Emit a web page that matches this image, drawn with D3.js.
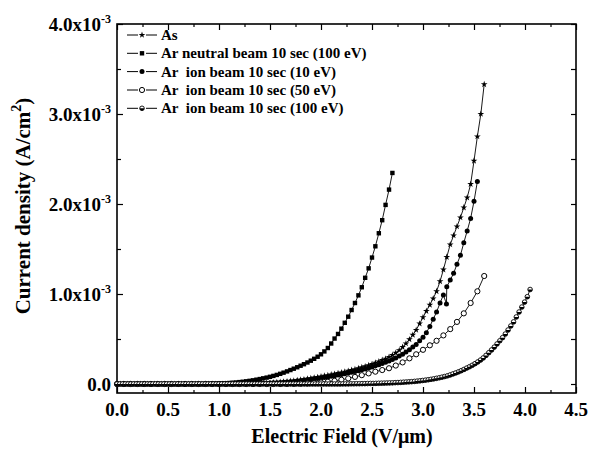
<!DOCTYPE html>
<html>
<head>
<meta charset="utf-8">
<script src="https://cdn.jsdelivr.net/npm/d3@7/dist/d3.min.js"></script>
<style>
  html, body { margin: 0; padding: 0; background: #fff; }
  svg text { font-family: "Liberation Serif", "Times New Roman", serif; font-weight: bold; fill: #000; }
</style>
</head>
<body>
<svg id="chart" width="590" height="449"></svg>
<script>
// Field emission J–E sweeps. E in V/μm, J in units of 10^-3 A/cm².
const asDeposited = [
  [0,0],[0.033,0],[0.067,0],[0.1,0],[0.133,0],[0.167,0],[0.2,0],[0.233,0],[0.267,0],[0.3,0],
  [0.333,0],[0.367,0],[0.4,0],[0.433,0],[0.467,0],[0.5,0],[0.533,0],[0.567,0],[0.6,0],[0.633,0],
  [0.667,0],[0.7,0],[0.733,0],[0.767,0],[0.8,0],[0.833,0],[0.867,0],[0.9,0],[0.933,0],[0.967,0],
  [1.0,0],[1.033,0],[1.067,0],[1.1,0],[1.133,0.001],[1.167,0.001],[1.2,0.002],[1.233,0.002],
  [1.267,0.003],[1.3,0.004],[1.333,0.005],[1.367,0.006],[1.4,0.007],[1.433,0.009],[1.467,0.011],
  [1.5,0.013],[1.533,0.015],[1.567,0.018],[1.6,0.021],[1.633,0.024],[1.667,0.028],[1.7,0.032],
  [1.733,0.036],[1.767,0.041],[1.8,0.046],[1.833,0.051],[1.867,0.057],[1.9,0.063],[1.933,0.070],
  [1.967,0.076],[2.0,0.083],[2.033,0.090],[2.067,0.097],[2.1,0.104],[2.133,0.112],[2.167,0.120],
  [2.2,0.128],[2.233,0.136],[2.267,0.145],[2.3,0.154],[2.333,0.164],[2.367,0.174],[2.4,0.185],
  [2.433,0.195],[2.467,0.207],[2.5,0.220],[2.533,0.235],[2.567,0.250],[2.6,0.265],[2.633,0.280],
  [2.667,0.300],[2.7,0.320],[2.733,0.345],[2.767,0.375],[2.8,0.410],[2.833,0.450],[2.867,0.495],
  [2.9,0.545],[2.933,0.600],[2.967,0.670],[3.0,0.740],[3.033,0.810],[3.067,0.880],[3.1,0.950],
  [3.133,1.030],[3.167,1.140],[3.2,1.270],[3.233,1.410],[3.267,1.550],[3.3,1.650],[3.333,1.750],
  [3.367,1.850],[3.4,1.960],[3.433,2.070],[3.467,2.220],[3.5,2.480],[3.533,2.750],[3.567,3.000],
  [3.6,3.330]
];

const neutralBeam100 = [
  [0,0],[0.033,0],[0.067,0],[0.1,0],[0.133,0],[0.167,0],[0.2,0],[0.233,0],[0.267,0],[0.3,0],
  [0.333,0],[0.367,0],[0.4,0],[0.433,0],[0.467,0],[0.5,0],[0.533,0],[0.567,0],[0.6,0],[0.633,0],
  [0.667,0],[0.7,0],[0.733,0],[0.767,0],[0.8,0],[0.833,0],[0.867,0.001],[0.9,0.002],[0.933,0.003],
  [0.967,0.004],[1.0,0.005],[1.033,0.007],[1.067,0.009],[1.1,0.011],[1.133,0.014],[1.167,0.017],
  [1.2,0.021],[1.233,0.025],[1.267,0.030],[1.3,0.035],[1.333,0.041],[1.367,0.048],[1.4,0.055],
  [1.433,0.063],[1.467,0.071],[1.5,0.080],[1.533,0.090],[1.567,0.101],[1.6,0.113],[1.633,0.126],
  [1.667,0.140],[1.7,0.155],[1.733,0.170],[1.767,0.186],[1.8,0.203],[1.833,0.220],[1.867,0.239],
  [1.9,0.259],[1.933,0.280],[1.967,0.303],[2.0,0.330],[2.033,0.362],[2.067,0.400],[2.1,0.450],
  [2.133,0.505],[2.167,0.556],[2.2,0.615],[2.233,0.680],[2.267,0.748],[2.3,0.822],[2.333,0.900],
  [2.367,0.985],[2.4,1.075],[2.433,1.180],[2.467,1.285],[2.5,1.405],[2.533,1.530],[2.567,1.675],
  [2.6,1.820],[2.633,1.990],[2.667,2.160],[2.7,2.345]
];

const ionBeam10 = [
  [0,0],[0.033,0],[0.067,0],[0.1,0],[0.133,0],[0.167,0],[0.2,0],[0.233,0],[0.267,0],[0.3,0],
  [0.333,0],[0.367,0],[0.4,0],[0.433,0],[0.467,0],[0.5,0],[0.533,0],[0.567,0],[0.6,0],[0.633,0],
  [0.667,0],[0.7,0],[0.733,0],[0.767,0],[0.8,0],[0.833,0],[0.867,0],[0.9,0],[0.933,0],[0.967,0],
  [1.0,0],[1.033,0],[1.067,0],[1.1,0],[1.133,0],[1.167,0.001],[1.2,0.001],[1.233,0.002],
  [1.267,0.002],[1.3,0.003],[1.333,0.004],[1.367,0.005],[1.4,0.006],[1.433,0.008],[1.467,0.009],
  [1.5,0.011],[1.533,0.013],[1.567,0.015],[1.6,0.017],[1.633,0.020],[1.667,0.023],[1.7,0.026],
  [1.733,0.029],[1.767,0.033],[1.8,0.037],[1.833,0.041],[1.867,0.046],[1.9,0.051],[1.933,0.056],
  [1.967,0.061],[2.0,0.067],[2.033,0.073],[2.067,0.079],[2.1,0.085],[2.133,0.092],[2.167,0.099],
  [2.2,0.106],[2.233,0.114],[2.267,0.122],[2.3,0.130],[2.333,0.139],[2.367,0.148],[2.4,0.158],
  [2.433,0.168],[2.467,0.179],[2.5,0.190],[2.533,0.202],[2.567,0.214],[2.6,0.227],[2.633,0.241],
  [2.667,0.256],[2.7,0.272],[2.733,0.290],[2.767,0.310],[2.8,0.330],[2.833,0.355],[2.867,0.380],
  [2.9,0.410],[2.933,0.440],[2.967,0.480],[3.0,0.520],[3.033,0.570],[3.067,0.640],[3.1,0.720],
  [3.133,0.800],[3.167,0.900],[3.2,0.990],[3.23,0.890],[3.233,1.080],[3.267,1.155],[3.3,1.230],
  [3.333,1.330],[3.367,1.430],[3.4,1.570],[3.433,1.700],[3.467,1.840],[3.5,2.030],[3.533,2.250]
];

const ionBeam50 = [
  [0,0],[0.067,0],[0.133,0],[0.2,0],[0.267,0],[0.333,0],[0.4,0],[0.467,0],[0.533,0],[0.6,0],
  [0.667,0],[0.733,0],[0.8,0],[0.867,0],[0.933,0],[1.0,0],[1.067,0],[1.133,0],[1.2,0],[1.267,0],
  [1.333,0],[1.4,0],[1.467,0],[1.533,0],[1.6,0],[1.667,0.001],[1.733,0.002],[1.8,0.004],
  [1.867,0.007],[1.933,0.011],[2.0,0.017],[2.067,0.025],[2.133,0.035],[2.2,0.047],[2.267,0.062],
  [2.333,0.079],[2.4,0.098],[2.467,0.118],[2.533,0.137],[2.6,0.155],[2.667,0.175],[2.733,0.205],
  [2.8,0.240],[2.867,0.285],[2.933,0.330],[3.0,0.380],[3.067,0.430],[3.133,0.480],[3.2,0.540],
  [3.267,0.610],[3.333,0.690],[3.4,0.785],[3.467,0.900],[3.533,1.030],[3.6,1.200]
];

const ionBeam100 = [
  [0,0],[0.027,0],[0.054,0],[0.081,0],[0.108,0],[0.135,0],[0.162,0],[0.189,0],[0.216,0],[0.243,0],
  [0.27,0],[0.297,0],[0.324,0],[0.351,0],[0.378,0],[0.405,0],[0.432,0],[0.459,0],[0.486,0],[0.513,0],
  [0.54,0],[0.567,0],[0.594,0],[0.621,0],[0.648,0],[0.675,0],[0.702,0],[0.729,0],[0.756,0],[0.783,0],
  [0.81,0],[0.837,0],[0.864,0],[0.891,0],[0.918,0],[0.945,0],[0.972,0],[0.999,0],[1.026,0],[1.053,0],
  [1.08,0],[1.107,0],[1.134,0],[1.161,0],[1.188,0],[1.215,0],[1.242,0],[1.269,0],[1.296,0],[1.323,0],
  [1.35,0],[1.377,0],[1.404,0],[1.431,0],[1.458,0],[1.485,0],[1.512,0],[1.539,0],[1.566,0],[1.593,0],
  [1.62,0],[1.647,0],[1.674,0],[1.701,0],[1.728,0],[1.755,0],[1.782,0],[1.809,0],[1.836,0],[1.863,0],
  [1.89,0],[1.917,0],[1.944,0],[1.971,0],[1.998,0],[2.025,0],[2.052,0],[2.079,0],[2.106,0],[2.133,0],
  [2.16,0],[2.187,0],[2.214,0.001],[2.241,0.001],[2.268,0.001],[2.295,0.002],[2.322,0.002],
  [2.349,0.003],[2.376,0.003],[2.403,0.004],[2.43,0.004],[2.457,0.005],[2.484,0.006],[2.511,0.006],
  [2.538,0.007],[2.565,0.008],[2.592,0.009],[2.619,0.010],[2.646,0.011],[2.673,0.012],[2.7,0.013],
  [2.727,0.015],[2.754,0.016],[2.781,0.018],[2.808,0.020],[2.835,0.022],[2.862,0.024],[2.889,0.026],
  [2.916,0.029],[2.943,0.032],[2.97,0.035],[2.997,0.039],[3.024,0.043],[3.051,0.047],[3.078,0.052],
  [3.105,0.057],[3.132,0.063],[3.159,0.069],[3.186,0.076],[3.213,0.083],[3.24,0.091],[3.267,0.101],
  [3.294,0.112],[3.321,0.123],[3.348,0.135],[3.375,0.148],[3.402,0.162],[3.429,0.177],[3.456,0.192],
  [3.483,0.208],[3.51,0.226],[3.537,0.245],[3.564,0.266],[3.591,0.290],[3.618,0.318],[3.645,0.348],
  [3.672,0.378],[3.699,0.410],[3.726,0.445],[3.753,0.480],[3.78,0.515],[3.807,0.555],[3.834,0.600],
  [3.861,0.645],[3.888,0.690],[3.915,0.745],[3.942,0.800],[3.969,0.855],[3.996,0.910],[4.023,0.970],
  [4.05,1.050]
];

// Axis ticks
const xMajorTicks = [0, 0.5, 1.0, 1.5, 2.0, 2.5, 3.0, 3.5, 4.0, 4.5];
const xMinorTicks = [0.25, 0.75, 1.25, 1.75, 2.25, 2.75, 3.25, 3.75, 4.25];
const yMajorTicks = [0, 1, 2, 3, 4];
const yMinorTicks = [0.5, 1.5, 2.5, 3.5];
const yTickMantissa = ["0.0", "1.0x10", "2.0x10", "3.0x10", "4.0x10"];
const yTickExponent = ["", "-3", "-3", "-3", "-3"];

const seriesNames = [
  "As",
  "Ar neutral beam 10 sec (100 eV)",
  "Ar  ion beam 10 sec (10 eV)",
  "Ar  ion beam 10 sec (50 eV)",
  "Ar  ion beam 10 sec (100 eV)"
];
const seriesData = [asDeposited, neutralBeam100, ionBeam10, ionBeam50, ionBeam100];
const seriesMarkers = ["star", "square", "disc", "ring", "half"];

// ---- layout ----
const svg = d3.select("#chart");
const plot = { left: 117, right: 576, top: 24, bottom: 393 };

const x = d3.scaleLinear().domain([0, 4.5]).range([plot.left, plot.right]);
const y = d3.scaleLinear().domain([-0.1, 4.0]).range([plot.bottom, plot.top]);

const axisStyle = g => {
  g.select(".domain").remove();
  g.selectAll(".tick line").attr("stroke", "#000").attr("stroke-width", 1.2);
  g.selectAll(".tick text").remove();
};

// bottom axis (labels drawn separately)
svg.append("g").attr("transform", `translate(0,${plot.bottom})`)
  .call(d3.axisBottom(x).tickValues(xMajorTicks).tickSize(-6)).call(axisStyle);
svg.append("g").attr("transform", `translate(0,${plot.bottom})`)
  .call(d3.axisBottom(x).tickValues(xMinorTicks).tickSize(-3)).call(axisStyle);
// top axis
svg.append("g").attr("transform", `translate(0,${plot.top})`)
  .call(d3.axisTop(x).tickValues(xMajorTicks).tickSize(-6)).call(axisStyle);
svg.append("g").attr("transform", `translate(0,${plot.top})`)
  .call(d3.axisTop(x).tickValues(xMinorTicks).tickSize(-3)).call(axisStyle);
// left axis
svg.append("g").attr("transform", `translate(${plot.left},0)`)
  .call(d3.axisLeft(y).tickValues(yMajorTicks).tickSize(-6)).call(axisStyle);
svg.append("g").attr("transform", `translate(${plot.left},0)`)
  .call(d3.axisLeft(y).tickValues(yMinorTicks).tickSize(-4)).call(axisStyle);
// right axis
svg.append("g").attr("transform", `translate(${plot.right},0)`)
  .call(d3.axisRight(y).tickValues(yMajorTicks.concat(yMinorTicks)).tickSize(-5)).call(axisStyle);

// frame
svg.append("rect")
  .attr("x", plot.left).attr("y", plot.top)
  .attr("width", plot.right - plot.left).attr("height", plot.bottom - plot.top)
  .attr("fill", "none").attr("stroke", "#000").attr("stroke-width", 1.6);

// x tick labels
svg.append("g").selectAll("text").data(xMajorTicks).join("text")
  .attr("x", d => x(d)).attr("y", 416)
  .attr("text-anchor", "middle").attr("font-size", 19)
  .text(d => d3.format(".1f")(d));

// y tick labels with superscript exponent
const yLab = svg.append("g").selectAll("text").data(yMajorTicks).join("text")
  .attr("x", 111).attr("y", d => y(d) + 7)
  .attr("text-anchor", "end").attr("font-size", 19);
yLab.append("tspan").text((d, i) => yTickMantissa[i]);
yLab.append("tspan").attr("dy", -8).attr("font-size", 12).text((d, i) => yTickExponent[i]);

// axis titles
svg.append("text")
  .attr("x", 342).attr("y", 443).attr("text-anchor", "middle").attr("font-size", 20)
  .text("Electric Field (V/\u03bcm)");

const yt = svg.append("text")
  .attr("transform", "translate(30,206) rotate(-90)")
  .attr("text-anchor", "middle").attr("font-size", 21);
yt.append("tspan").text("Current density (A/cm");
yt.append("tspan").attr("dy", -9).attr("font-size", 14).text("2");
yt.append("tspan").attr("dy", 9).text(")");

// ---- markers ----
function drawMarker(sel, type) {
  if (type === "star") {
    sel.append("path").attr("d", d3.symbol(d3.symbolStar, 14)()).attr("fill", "#000");
  } else if (type === "square") {
    sel.append("rect").attr("x", -2.2).attr("y", -2.2).attr("width", 4.4).attr("height", 4.4).attr("fill", "#000");
  } else if (type === "disc") {
    sel.append("circle").attr("r", 2.5).attr("fill", "#000");
  } else if (type === "ring") {
    sel.append("circle").attr("r", 2.6).attr("fill", "#fff").attr("stroke", "#000").attr("stroke-width", 1);
  } else if (type === "half") {
    sel.append("circle").attr("r", 2.3).attr("fill", "#fff").attr("stroke", "#000").attr("stroke-width", 0.9);
    sel.append("path").attr("d", "M-2.3,0A2.3,2.3 0 0 0 2.3,0Z").attr("fill", "#000");
  }
}

const line = d3.line().x(d => x(d[0])).y(d => y(d[1]));

seriesData.forEach((data, i) => {
  const g = svg.append("g");
  g.append("path").datum(data).attr("d", line)
    .attr("fill", "none").attr("stroke", "#000").attr("stroke-width", 0.9);
  g.selectAll("g.pt").data(data).join("g").attr("class", "pt")
    .attr("transform", d => `translate(${x(d[0])},${y(d[1])})`)
    .each(function () { drawMarker(d3.select(this), seriesMarkers[i]); });
});

// ---- legend ----
const legendRows = [35, 53.3, 71.6, 90, 108.3];
const legend = svg.append("g");
seriesNames.forEach((name, i) => {
  const ry = legendRows[i];
  legend.append("line").attr("x1", 127).attr("x2", 157).attr("y1", ry).attr("y2", ry)
    .attr("stroke", "#000").attr("stroke-width", 1);
  const m = legend.append("g").attr("transform", `translate(142,${ry})`);
  m.append("rect").attr("x", -4).attr("y", -4).attr("width", 8).attr("height", 8).attr("fill", "#fff");
  drawMarker(m, seriesMarkers[i]);
  legend.append("text").attr("x", 161).attr("y", ry + 5)
    .attr("font-size", 15).style("white-space", "pre").text(name);
});
</script>
</body>
</html>
